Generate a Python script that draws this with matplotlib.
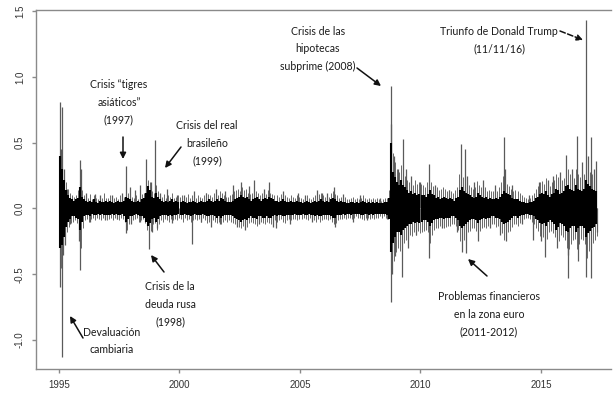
import numpy as np
import matplotlib
matplotlib.use("Agg")
import matplotlib.pyplot as plt

# ---------------- data ----------------
# monthly core band (dense black part), upper and lower envelope
core_hi = {
    1995: [0.40, 0.30, 0.22, 0.14, 0.10, 0.08, 0.07, 0.06, 0.07, 0.08, 0.16, 0.09],
    1996: [0.07, 0.06, 0.05, 0.06, 0.05, 0.07, 0.05, 0.04, 0.06, 0.05, 0.05, 0.06],
    1997: [0.05, 0.06, 0.05, 0.04, 0.05, 0.06, 0.05, 0.05, 0.06, 0.09, 0.08, 0.07],
    1998: [0.06, 0.05, 0.05, 0.06, 0.05, 0.07, 0.08, 0.12, 0.17, 0.14, 0.09, 0.08],
    1999: [0.12, 0.09, 0.07, 0.06, 0.05, 0.06, 0.05, 0.06, 0.07, 0.05, 0.06, 0.05],
    2000: [0.05, 0.06, 0.05, 0.04, 0.05, 0.05, 0.06, 0.05, 0.04, 0.05, 0.06, 0.05],
    2001: [0.05, 0.06, 0.07, 0.06, 0.05, 0.06, 0.07, 0.06, 0.08, 0.07, 0.06, 0.05],
    2002: [0.05, 0.05, 0.06, 0.07, 0.08, 0.09, 0.10, 0.09, 0.08, 0.09, 0.07, 0.06],
    2003: [0.07, 0.08, 0.09, 0.07, 0.06, 0.07, 0.08, 0.07, 0.09, 0.08, 0.07, 0.06],
    2004: [0.06, 0.05, 0.06, 0.07, 0.06, 0.05, 0.05, 0.06, 0.05, 0.05, 0.06, 0.05],
    2005: [0.05, 0.04, 0.05, 0.06, 0.05, 0.04, 0.05, 0.06, 0.05, 0.06, 0.07, 0.06],
    2006: [0.05, 0.06, 0.05, 0.07, 0.08, 0.07, 0.06, 0.05, 0.06, 0.05, 0.05, 0.04],
    2007: [0.04, 0.05, 0.05, 0.04, 0.05, 0.04, 0.05, 0.06, 0.05, 0.04, 0.05, 0.04],
    2008: [0.05, 0.04, 0.05, 0.04, 0.04, 0.04, 0.05, 0.05, 0.08, 0.50, 0.28, 0.24],
    2009: [0.20, 0.18, 0.22, 0.18, 0.16, 0.14, 0.12, 0.13, 0.11, 0.12, 0.10, 0.11],
    2010: [0.10, 0.10, 0.09, 0.11, 0.14, 0.11, 0.10, 0.08, 0.09, 0.07, 0.08, 0.09],
    2011: [0.08, 0.07, 0.08, 0.07, 0.06, 0.08, 0.09, 0.14, 0.16, 0.13, 0.12, 0.11],
    2012: [0.10, 0.09, 0.08, 0.09, 0.12, 0.10, 0.09, 0.08, 0.09, 0.07, 0.08, 0.07],
    2013: [0.07, 0.08, 0.07, 0.09, 0.11, 0.13, 0.12, 0.11, 0.10, 0.08, 0.07, 0.07],
    2014: [0.07, 0.06, 0.05, 0.05, 0.04, 0.04, 0.05, 0.05, 0.06, 0.08, 0.09, 0.11],
    2015: [0.12, 0.11, 0.13, 0.10, 0.09, 0.11, 0.12, 0.15, 0.14, 0.11, 0.12, 0.13],
    2016: [0.17, 0.18, 0.15, 0.14, 0.13, 0.18, 0.15, 0.14, 0.13, 0.15, 0.22, 0.19],
    2017: [0.17, 0.15, 0.14, 0.13],
}
core_lo = {
    1995: [-0.30, -0.28, -0.22, -0.14, -0.10, -0.08, -0.06, -0.06, -0.07, -0.08, -0.16, -0.10],
    1996: [-0.06, -0.05, -0.05, -0.06, -0.04, -0.05, -0.05, -0.04, -0.05, -0.04, -0.05, -0.05],
    1997: [-0.05, -0.05, -0.04, -0.05, -0.04, -0.05, -0.05, -0.04, -0.06, -0.10, -0.08, -0.06],
    1998: [-0.06, -0.05, -0.04, -0.05, -0.06, -0.06, -0.07, -0.10, -0.13, -0.11, -0.08, -0.07],
    1999: [-0.10, -0.08, -0.06, -0.05, -0.05, -0.05, -0.06, -0.05, -0.06, -0.05, -0.05, -0.04],
    2000: [-0.05, -0.05, -0.04, -0.05, -0.05, -0.06, -0.05, -0.04, -0.05, -0.05, -0.05, -0.04],
    2001: [-0.05, -0.06, -0.06, -0.05, -0.05, -0.06, -0.07, -0.06, -0.07, -0.06, -0.05, -0.05],
    2002: [-0.05, -0.05, -0.06, -0.07, -0.08, -0.09, -0.10, -0.09, -0.08, -0.09, -0.07, -0.06],
    2003: [-0.07, -0.07, -0.08, -0.06, -0.06, -0.07, -0.07, -0.06, -0.07, -0.07, -0.06, -0.05],
    2004: [-0.06, -0.05, -0.05, -0.06, -0.06, -0.05, -0.05, -0.05, -0.05, -0.04, -0.05, -0.05],
    2005: [-0.05, -0.04, -0.05, -0.05, -0.04, -0.05, -0.05, -0.06, -0.05, -0.06, -0.06, -0.05],
    2006: [-0.05, -0.05, -0.05, -0.06, -0.07, -0.07, -0.05, -0.05, -0.05, -0.04, -0.05, -0.04],
    2007: [-0.04, -0.05, -0.04, -0.04, -0.04, -0.04, -0.05, -0.05, -0.04, -0.04, -0.05, -0.04],
    2008: [-0.05, -0.04, -0.04, -0.04, -0.04, -0.04, -0.04, -0.05, -0.08, -0.33, -0.26, -0.22],
    2009: [-0.18, -0.18, -0.20, -0.16, -0.15, -0.13, -0.12, -0.12, -0.10, -0.11, -0.10, -0.11],
    2010: [-0.10, -0.09, -0.09, -0.10, -0.13, -0.11, -0.09, -0.08, -0.08, -0.07, -0.07, -0.08],
    2011: [-0.07, -0.07, -0.07, -0.06, -0.06, -0.07, -0.09, -0.13, -0.15, -0.13, -0.12, -0.10],
    2012: [-0.09, -0.08, -0.08, -0.09, -0.11, -0.09, -0.08, -0.07, -0.08, -0.07, -0.07, -0.06],
    2013: [-0.06, -0.07, -0.07, -0.08, -0.10, -0.12, -0.11, -0.10, -0.09, -0.07, -0.06, -0.06],
    2014: [-0.07, -0.06, -0.05, -0.05, -0.04, -0.04, -0.05, -0.05, -0.06, -0.08, -0.09, -0.11],
    2015: [-0.12, -0.11, -0.13, -0.10, -0.09, -0.10, -0.12, -0.16, -0.14, -0.11, -0.12, -0.13],
    2016: [-0.17, -0.18, -0.15, -0.13, -0.13, -0.18, -0.15, -0.13, -0.13, -0.15, -0.22, -0.19],
    2017: [-0.17, -0.15, -0.14, -0.12],
}

# monthly outer excursions (thin grey daily moves around the core)
outer_hi = {
    1995: [0.55, 0.35, 0.28, 0.20, 0.15, 0.12, 0.10, 0.09, 0.10, 0.14, 0.25, 0.14],
    1996: [0.10, 0.09, 0.08, 0.11, 0.07, 0.10, 0.08, 0.07, 0.09, 0.08, 0.12, 0.08],
    1997: [0.08, 0.10, 0.07, 0.08, 0.09, 0.07, 0.10, 0.08, 0.09, 0.14, 0.12, 0.10],
    1998: [0.09, 0.08, 0.10, 0.07, 0.09, 0.11, 0.12, 0.18, 0.22, 0.20, 0.13, 0.12],
    1999: [0.18, 0.13, 0.10, 0.09, 0.11, 0.08, 0.10, 0.09, 0.12, 0.08, 0.09, 0.10],
    2000: [0.09, 0.10, 0.08, 0.09, 0.11, 0.08, 0.10, 0.09, 0.08, 0.10, 0.09, 0.08],
    2001: [0.10, 0.12, 0.11, 0.10, 0.09, 0.12, 0.11, 0.10, 0.13, 0.12, 0.10, 0.09],
    2002: [0.09, 0.10, 0.11, 0.13, 0.14, 0.15, 0.13, 0.16, 0.14, 0.15, 0.12, 0.11],
    2003: [0.12, 0.14, 0.13, 0.12, 0.10, 0.12, 0.13, 0.11, 0.14, 0.12, 0.11, 0.10],
    2004: [0.10, 0.09, 0.11, 0.12, 0.10, 0.09, 0.08, 0.10, 0.09, 0.08, 0.10, 0.09],
    2005: [0.08, 0.07, 0.09, 0.10, 0.08, 0.07, 0.09, 0.10, 0.08, 0.11, 0.12, 0.10],
    2006: [0.09, 0.10, 0.09, 0.12, 0.13, 0.11, 0.10, 0.08, 0.09, 0.08, 0.09, 0.07],
    2007: [0.07, 0.08, 0.09, 0.07, 0.08, 0.07, 0.08, 0.10, 0.08, 0.07, 0.08, 0.07],
    2008: [0.08, 0.07, 0.08, 0.07, 0.06, 0.07, 0.08, 0.08, 0.14, 0.60, 0.42, 0.35],
    2009: [0.30, 0.28, 0.33, 0.27, 0.25, 0.22, 0.20, 0.24, 0.18, 0.22, 0.19, 0.20],
    2010: [0.19, 0.18, 0.16, 0.20, 0.25, 0.20, 0.17, 0.15, 0.16, 0.14, 0.15, 0.16],
    2011: [0.15, 0.13, 0.14, 0.13, 0.12, 0.14, 0.16, 0.26, 0.28, 0.24, 0.22, 0.19],
    2012: [0.18, 0.16, 0.15, 0.16, 0.21, 0.18, 0.16, 0.15, 0.16, 0.13, 0.14, 0.13],
    2013: [0.13, 0.15, 0.13, 0.16, 0.20, 0.25, 0.22, 0.19, 0.17, 0.15, 0.13, 0.14],
    2014: [0.13, 0.12, 0.10, 0.09, 0.08, 0.07, 0.08, 0.10, 0.12, 0.15, 0.17, 0.20],
    2015: [0.21, 0.19, 0.23, 0.18, 0.17, 0.20, 0.22, 0.26, 0.24, 0.20, 0.22, 0.23],
    2016: [0.28, 0.30, 0.26, 0.24, 0.23, 0.30, 0.26, 0.24, 0.23, 0.26, 0.35, 0.30],
    2017: [0.28, 0.26, 0.24, 0.22],
}
outer_lo = {
    1995: [-0.45, -0.32, -0.26, -0.18, -0.14, -0.11, -0.10, -0.09, -0.11, -0.13, -0.30, -0.15],
    1996: [-0.09, -0.08, -0.10, -0.08, -0.07, -0.09, -0.07, -0.08, -0.09, -0.07, -0.08, -0.09],
    1997: [-0.08, -0.07, -0.09, -0.07, -0.08, -0.09, -0.07, -0.08, -0.10, -0.16, -0.12, -0.09],
    1998: [-0.09, -0.08, -0.07, -0.10, -0.09, -0.08, -0.11, -0.16, -0.20, -0.17, -0.12, -0.11],
    1999: [-0.16, -0.12, -0.09, -0.10, -0.08, -0.09, -0.10, -0.08, -0.09, -0.08, -0.09, -0.07],
    2000: [-0.08, -0.10, -0.07, -0.09, -0.08, -0.10, -0.09, -0.08, -0.09, -0.08, -0.10, -0.07],
    2001: [-0.09, -0.11, -0.10, -0.12, -0.09, -0.10, -0.11, -0.10, -0.12, -0.10, -0.09, -0.10],
    2002: [-0.09, -0.10, -0.11, -0.12, -0.13, -0.14, -0.15, -0.13, -0.12, -0.14, -0.11, -0.10],
    2003: [-0.11, -0.12, -0.13, -0.10, -0.10, -0.11, -0.12, -0.10, -0.11, -0.12, -0.10, -0.09],
    2004: [-0.10, -0.09, -0.08, -0.10, -0.11, -0.09, -0.08, -0.09, -0.08, -0.08, -0.09, -0.08],
    2005: [-0.08, -0.07, -0.08, -0.09, -0.07, -0.08, -0.09, -0.10, -0.08, -0.10, -0.09, -0.08],
    2006: [-0.08, -0.09, -0.08, -0.10, -0.12, -0.11, -0.09, -0.08, -0.08, -0.07, -0.08, -0.07],
    2007: [-0.07, -0.08, -0.07, -0.06, -0.07, -0.07, -0.08, -0.09, -0.07, -0.07, -0.08, -0.07],
    2008: [-0.08, -0.07, -0.07, -0.06, -0.07, -0.06, -0.07, -0.08, -0.14, -0.48, -0.40, -0.33],
    2009: [-0.30, -0.32, -0.30, -0.26, -0.24, -0.22, -0.20, -0.21, -0.18, -0.20, -0.17, -0.19],
    2010: [-0.18, -0.17, -0.16, -0.18, -0.26, -0.20, -0.16, -0.15, -0.15, -0.13, -0.14, -0.15],
    2011: [-0.14, -0.13, -0.13, -0.12, -0.12, -0.13, -0.16, -0.25, -0.30, -0.24, -0.22, -0.18],
    2012: [-0.17, -0.15, -0.15, -0.17, -0.22, -0.17, -0.15, -0.14, -0.15, -0.13, -0.13, -0.12],
    2013: [-0.12, -0.14, -0.13, -0.15, -0.19, -0.24, -0.20, -0.18, -0.17, -0.14, -0.12, -0.12],
    2014: [-0.13, -0.11, -0.09, -0.08, -0.07, -0.07, -0.08, -0.10, -0.12, -0.15, -0.17, -0.21],
    2015: [-0.22, -0.20, -0.23, -0.18, -0.17, -0.19, -0.22, -0.28, -0.25, -0.20, -0.22, -0.24],
    2016: [-0.30, -0.31, -0.27, -0.24, -0.23, -0.31, -0.27, -0.23, -0.24, -0.27, -0.38, -0.32],
    2017: [-0.29, -0.26, -0.24, -0.21],
}

# individual large daily spikes (decimal year, return)
spike_dates = [
    1995.05, 1995.05, 1995.12, 1995.12, 1995.08, 1995.15, 1995.20, 1995.25, 1995.35, 1995.45,
    1995.86, 1995.86, 1995.90, 1995.82,
    1996.10, 1996.30, 1996.50, 1996.70, 1996.90,
    1997.20, 1997.40, 1997.60, 1997.78, 1997.80, 1997.95, 1997.98,
    1998.15, 1998.36, 1998.36, 1998.55, 1998.62, 1998.72, 1998.80, 1998.85,
    1999.00, 1999.05, 1999.20, 1999.50, 1999.70, 1999.90,
    2000.20, 2000.50, 2000.60, 2000.90,
    2001.10, 2001.30, 2001.50, 2001.70, 2001.90,
    2002.20, 2002.40, 2002.55, 2002.70, 2002.90,
    2003.10, 2003.30, 2003.50, 2003.70, 2003.90,
    2004.00, 2004.30, 2004.60, 2004.90,
    2005.20, 2005.50, 2005.70, 2005.90,
    2006.10, 2006.40, 2006.45, 2006.80,
    2007.20, 2007.50, 2007.80,
    2008.30, 2008.60,
    2008.76, 2008.78, 2008.78, 2008.82, 2008.90, 2008.95, 2009.05,
    2009.25, 2009.27, 2009.40, 2009.50, 2009.60, 2009.80,
    2010.00, 2010.35, 2010.37, 2010.60, 2010.90,
    2011.20, 2011.50, 2011.70, 2011.72, 2011.85, 2011.87, 2011.95,
    2012.20, 2012.40, 2012.60, 2012.90,
    2013.10, 2013.30, 2013.47, 2013.50, 2013.55, 2013.80,
    2014.20, 2014.50, 2014.67, 2014.90,
    2015.00, 2015.17, 2015.30, 2015.50, 2015.65, 2015.80,
    2016.04, 2016.10, 2016.12, 2016.30, 2016.50, 2016.55, 2016.70,
    2016.87, 2016.88, 2016.95,
    2017.07, 2017.08, 2017.20, 2017.30, 2017.31,
]
spike_vals = [
    0.81, -0.60, 0.77, -1.13, 0.45, -0.35, 0.30, -0.28, 0.15, -0.12,
    0.37, -0.47, 0.30, -0.25,
    0.12, -0.10, 0.11, 0.10, -0.09,
    0.10, -0.08, 0.12, 0.32, -0.19, 0.16, -0.12,
    0.14, 0.18, -0.10, 0.12, 0.38, -0.31, 0.20, -0.18,
    0.52, -0.15, 0.12, 0.15, -0.11, 0.10,
    0.10, -0.27, 0.13, -0.10,
    0.12, -0.14, 0.15, -0.12, 0.13,
    0.18, -0.14, 0.20, -0.16, 0.17,
    0.22, -0.12, 0.15, 0.20, -0.14,
    -0.15, 0.13, -0.12, 0.12,
    0.10, -0.10, 0.14, 0.12,
    0.12, 0.16, -0.14, 0.11,
    -0.10, 0.10, -0.09,
    0.08, -0.08,
    0.64, 0.93, -0.71, -0.50, 0.40, -0.36, 0.30,
    -0.52, 0.53, 0.30, -0.30, 0.25, -0.20,
    0.20, 0.34, -0.38, 0.18, -0.15,
    0.14, -0.18, 0.49, -0.33, 0.45, -0.34, 0.25,
    0.20, -0.25, 0.22, -0.15,
    0.18, -0.20, 0.54, 0.30, -0.25, 0.18,
    -0.12, 0.10, -0.24, 0.20,
    -0.25, -0.37, 0.22, 0.25, -0.30, 0.28,
    0.41, -0.35, -0.53, 0.30, 0.55, -0.40, 0.35,
    1.43, -0.52, 0.40,
    0.54, -0.53, 0.30, 0.36, -0.18,
]

x_ticks = [1995, 2000, 2005, 2010, 2015]
y_ticks = [-1.0, -0.5, 0.0, 0.5, 1.0, 1.5]

annotations = [
    # text, text centre (px), arrow tail (px), arrow tip (px), dashed
    ("Crisis \u201ctigres\nasiáticos\u201d\n(1997)", (119, 102), (123, 137), (123, 159), False),
    ("Crisis del real\nbrasileño\n(1999)", (207, 143), (181, 147), (165, 168), False),
    ("Crisis de la\ndeuda rusa\n(1998)", (170, 304), (164, 272), (151, 255), False),
    ("Devaluación\ncambiaria", (112, 341), (83, 338), (70, 316), False),
    ("Crisis de las\nhipotecas\nsubprime (2008)", (318, 49), (357, 68), (381, 86), False),
    ("Triunfo de Donald Trump\n(11/11/16)", (499, 40), (560, 31), (583, 40), True),
    ("Problemas financieros\nen la zona euro\n(2011-2012)", (489, 314), (487, 276), (468, 259), False),
]

# ---------------- figure ----------------
W, H = 616, 395
fig = plt.figure(figsize=(W / 100, H / 100), dpi=100)
ax_l, ax_r, ax_t, ax_b = 36, 611, 10, 369
ax = fig.add_axes([ax_l / W, (H - ax_b) / H, (ax_r - ax_l) / W, (ax_b - ax_t) / H])

px_per_year = 24.1
px_per_unit = 131.5
x1995 = 59
y0 = 208.5
ax.set_xlim(1995 - (x1995 - ax_l) / px_per_year, 1995 + (ax_r - x1995) / px_per_year)
ax.set_ylim(-(ax_b - y0) / px_per_unit, (y0 - ax_t) / px_per_unit)


def monthly(d, offset):
    t, v = [], []
    for yr in sorted(d):
        for m, val in enumerate(d[yr]):
            t.append(yr + (m + offset) / 12)
            v.append(val)
    return t, v


# outer grey excursions
t_oh, v_oh = monthly(outer_hi, 0.3)
t_ol, v_ol = monthly(outer_lo, 0.75)
ax.vlines(t_oh, 0, v_oh, color="#5e5e5e", lw=0.65, zorder=2)
ax.vlines(t_ol, 0, v_ol, color="#5e5e5e", lw=0.65, zorder=2)

# core band as monthly vertical segments
t_c, v_ch = monthly(core_hi, 0.5)
_, v_cl = monthly(core_lo, 0.5)
ax.vlines(t_c, v_cl, v_ch, color="black", lw=1.5, zorder=3)

# large spikes
ax.vlines(spike_dates, 0, spike_vals, color="#5a5a5a", lw=0.9, zorder=2)

# axes styling (R-like)
spine_c = "#8a8a8a"
for s in ["left", "bottom", "top"]:
    ax.spines[s].set_color(spine_c)
    ax.spines[s].set_linewidth(1.0)
ax.spines["right"].set_visible(False)
ax.set_xticks(x_ticks)
ax.set_xticklabels([str(v) for v in x_ticks])
ax.set_yticks(y_ticks)
ax.set_yticklabels([f"{v:.1f}" for v in y_ticks], rotation=90, va="center")
ax.tick_params(axis="both", colors=spine_c, labelcolor="#333333", labelsize=7,
               length=3, width=1.0, direction="out")
ax.tick_params(axis="x", pad=5)
ax.tick_params(axis="y", pad=5)
for lab in ax.get_xticklabels() + ax.get_yticklabels():
    lab.set_family("Liberation Sans")


def fpx(p):
    return (p[0] / W, (H - p[1]) / H)


for text, tc, tail, tip, dashed in annotations:
    fig.text(*fpx(tc), text, ha="center", va="center", multialignment="center",
             fontsize=7.6, family="Lato", color="#1a1a1a", linespacing=1.75)
    ax.annotate("", xy=fpx(tip), xycoords="figure fraction",
                xytext=fpx(tail), textcoords="figure fraction",
                arrowprops=dict(arrowstyle="-|>", color="#111111", lw=1.1,
                                linestyle="--" if dashed else "-",
                                mutation_scale=9, shrinkA=0, shrinkB=0),
                zorder=5)

fig.savefig("out.png", dpi=100, facecolor="white")
